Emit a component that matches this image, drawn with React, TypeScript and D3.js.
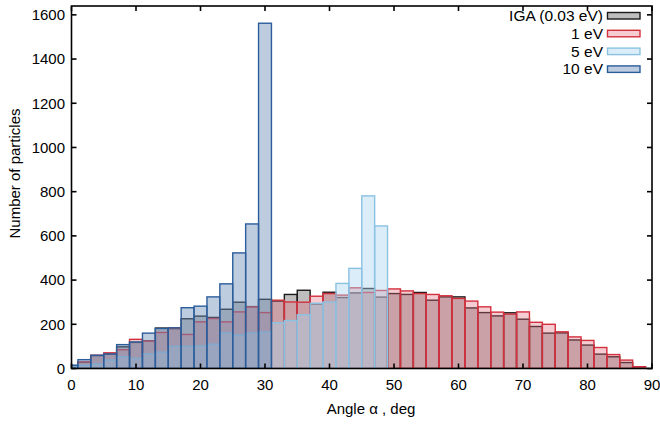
import React from 'react';
import * as d3 from 'd3';

// bin centres (deg), 2 deg wide bins
const binCenters = [0, 2, 4, 6, 8, 10, 12, 14, 16, 18, 20, 22, 24, 26, 28, 30, 32, 34, 36, 38, 40, 42, 44,
  46, 48, 50, 52, 54, 56, 58, 60, 62, 64, 66, 68, 70, 72, 74, 76, 78, 80, 82, 84, 86, 88, 90];

const igaCounts = [12, 28, 58, 65, 98, 118, 125, 183, 180, 225, 237, 231, 268, 300, 280, 313, 305, 335, 354, 292,
  345, 321, 342, 362, 323, 339, 335, 344, 309, 324, 324, 274, 253, 238, 252, 223, 190, 160, 161, 129, 106, 65, 53,
  27, 8, 0];

const ev1Counts = [10, 30, 60, 71, 85, 132, 124, 163, 184, 154, 211, 226, 211, 256, 279, 253, 309, 301, 300, 327,
  339, 332, 365, 344, 353, 360, 351, 339, 335, 329, 317, 305, 279, 255, 246, 256, 209, 200, 166, 143, 127, 95, 63,
  38, 8, 0];

const ev5Counts = [8, 15, 20, 38, 53, 46, 66, 74, 100, 100, 102, 110, 161, 151, 161, 165, 207, 217, 243, 295, 301,
  385, 453, 781, 645, 0, 0, 0, 0, 0, 0, 0, 0, 0, 0, 0, 0, 0, 0, 0, 0, 0, 0, 0, 0, 0];

const ev10Counts = [15, 40, 60, 66, 108, 120, 160, 181, 184, 275, 282, 324, 383, 523, 654, 1562, 0, 0, 0, 0, 0, 0,
  0, 0, 0, 0, 0, 0, 0, 0, 0, 0, 0, 0, 0, 0, 0, 0, 0, 0, 0, 0, 0, 0, 0, 0];

const xTicks = [0, 10, 20, 30, 40, 50, 60, 70, 80, 90];
const yTicks = [0, 200, 400, 600, 800, 1000, 1200, 1400, 1600];

const series = [
  { name: 'IGA (0.03 eV)', values: igaCounts, fill: '#7d7d7d', opacity: 0.5, stroke: '#1a1a1a' },
  { name: '1 eV', values: ev1Counts, fill: '#e36c7a', opacity: 0.35, stroke: '#d3303e' },
  { name: '5 eV', values: ev5Counts, fill: '#a9d5ee', opacity: 0.42, stroke: '#8ac2e2' },
  { name: '10 eV', values: ev10Counts, fill: '#6f8fb8', opacity: 0.45, stroke: '#2b5d9b' },
];

const W = 660;
const H = 424;
const left = 71.5;
const right = 652;
const top = 6;
const bottom = 368.5;
const font = '"Liberation Sans", Arial, Helvetica, sans-serif';

export default function App() {
  const x = d3.scaleLinear().domain([0, 90]).range([left, right]);
  const y = d3.scaleLinear().domain([0, 1640]).range([bottom, top]);
  const binW = 2;

  return (
    <svg width={W} height={H} style={{ position: 'absolute', left: 0, top: 0, background: '#fff' }}
      fontFamily={font}>
      <defs>
        <clipPath id="plot">
          <rect x={left} y={top} width={right - left} height={bottom - top} />
        </clipPath>
      </defs>

      <g clipPath="url(#plot)">
        {series.map(s => (
          <g key={s.name}>
            {s.values.map((v, i) => v > 0 && (
              <rect key={i}
                x={x(binCenters[i] - binW / 2)}
                y={y(v)}
                width={x(binCenters[i] + binW / 2) - x(binCenters[i] - binW / 2)}
                height={y(0) - y(v)}
                fill={s.fill} fillOpacity={s.opacity}
                stroke={s.stroke} strokeWidth={1.4} />
            ))}
          </g>
        ))}
      </g>

      {/* frame */}
      <rect x={left} y={top} width={right - left} height={bottom - top} fill="none" stroke="#000" strokeWidth={1.6} />

      {/* ticks */}
      {xTicks.map(t => (
        <g key={'x' + t}>
          <line x1={x(t)} x2={x(t)} y1={bottom} y2={bottom - 5} stroke="#000" strokeWidth={1.6} />
          <line x1={x(t)} x2={x(t)} y1={top} y2={top + 5} stroke="#000" strokeWidth={1.6} />
          <text x={x(t)} y={390} fontSize={15} textAnchor="middle" fill="#000">{t}</text>
        </g>
      ))}
      {yTicks.map(t => (
        <g key={'y' + t}>
          <line x1={left} x2={left + 5} y1={y(t)} y2={y(t)} stroke="#000" strokeWidth={1.6} />
          <line x1={right} x2={right - 5} y1={y(t)} y2={y(t)} stroke="#000" strokeWidth={1.6} />
          <text x={65} y={y(t) + 5.3} fontSize={15} textAnchor="end" fill="#000">{t}</text>
        </g>
      ))}

      {/* axis titles */}
      <text x={371} y={414} fontSize={15} textAnchor="middle" fill="#000">Angle α , deg</text>
      <text transform={`translate(20,${173.5}) rotate(-90)`} fontSize={15} textAnchor="middle" fill="#000">
        Number of particles
      </text>

      {/* legend */}
      {series.map((s, i) => {
        const by = 21 + i * 17.8;
        return (
          <g key={'lg' + s.name}>
            <text x={603} y={by} fontSize={15.5} textAnchor="end" fill="#000">{s.name}</text>
            <rect x={607.5} y={by - 8.5} width={32.5} height={6.5}
              fill={s.fill} fillOpacity={s.opacity} stroke={s.stroke} strokeWidth={1.4} />
          </g>
        );
      })}
    </svg>
  );
}
